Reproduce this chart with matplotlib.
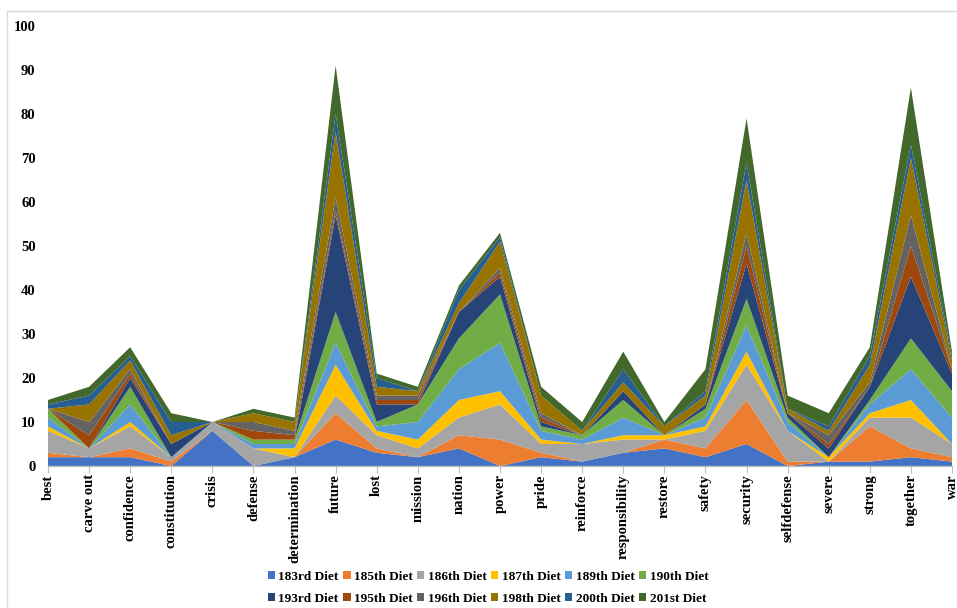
import matplotlib.pyplot as plt
from matplotlib.patches import Rectangle

plt.rcParams['font.family'] = ['Liberation Serif', 'DejaVu Serif']

words = ["best", "carve out", "confidence", "constitution", "crisis", "defense",
         "determination", "future", "lost", "mission", "nation", "power", "pride",
         "reinforce", "responsibility", "restore", "safety", "security",
         "selfdefense", "severe", "strong", "together", "war"]

diet_183 = [2, 2, 2, 0, 8, 0, 2, 6, 3, 2, 4, 0, 2, 1, 3, 4, 2, 5, 0, 1, 1, 2, 1]
diet_185 = [1, 0, 2, 1, 0, 0, 0, 6, 1, 0, 3, 6, 1, 0, 0, 2, 2, 10, 1, 0, 8, 2, 1]
diet_186 = [5, 2, 5, 1, 2, 4, 0, 4, 3, 2, 4, 8, 2, 4, 3, 0, 4, 8, 7, 0, 2, 7, 3]
diet_187 = [1, 0, 1, 0, 0, 0, 2, 7, 1, 2, 4, 3, 1, 0, 1, 1, 1, 3, 0, 1, 1, 4, 0]
diet_189 = [2, 0, 4, 0, 0, 1, 1, 5, 1, 4, 7, 11, 2, 1, 4, 0, 2, 6, 2, 0, 2, 7, 6]
diet_190 = [2, 0, 4, 0, 0, 1, 1, 7, 1, 4, 7, 11, 1, 1, 4, 0, 2, 6, 1, 0, 1, 7, 6]
diet_193 = [0, 0, 2, 3, 0, 0, 0, 22, 4, 0, 6, 4, 1, 0, 2, 0, 1, 8, 1, 2, 3, 14, 4]
diet_195 = [0, 3, 1, 0, 0, 2, 1, 1, 1, 1, 0, 1, 1, 0, 0, 0, 0, 4, 0, 1, 0, 7, 1]
diet_196 = [0, 3, 1, 0, 0, 2, 1, 3, 1, 1, 0, 1, 1, 0, 0, 0, 0, 3, 0, 2, 1, 7, 0]
diet_198 = [0, 4, 2, 2, 0, 2, 2, 15, 2, 1, 2, 6, 4, 1, 2, 2, 2, 12, 1, 1, 4, 13, 2]
diet_200 = [1, 2, 1, 3, 0, 0, 0, 4, 2, 0, 3, 1, 0, 0, 3, 0, 1, 4, 0, 1, 2, 3, 1]
diet_201 = [1, 2, 2, 2, 0, 1, 1, 11, 1, 1, 1, 1, 2, 2, 4, 1, 5, 10, 3, 3, 2, 13, 1]

series = [diet_183, diet_185, diet_186, diet_187, diet_189, diet_190,
          diet_193, diet_195, diet_196, diet_198, diet_200, diet_201]
labels = ["183rd Diet", "185th Diet", "186th Diet", "187th Diet", "189th Diet",
          "190th Diet", "193rd Diet", "195th Diet", "196th Diet", "198th Diet",
          "200th Diet", "201st Diet"]
colors = ["#4472C4", "#ED7D31", "#A5A5A5", "#FFC000", "#5B9BD5", "#70AD47",
          "#264478", "#9E480E", "#636363", "#997300", "#255E91", "#43682B"]

W, H = 957, 608
fig = plt.figure(figsize=(W / 100, H / 100), dpi=100)
ax = fig.add_axes([48 / W, 1 - 466 / H, (952 - 48) / W, (466 - 26) / H])

x = list(range(len(words)))
ax.stackplot(x, *series, labels=labels, colors=colors, linewidth=0)

ax.set_xlim(0, len(words) - 1)
ax.set_ylim(0, 100)
ax.set_yticks(range(0, 101, 10))
ax.set_xticks(x)
ax.set_xticklabels(words, rotation=90, ha="center", va="top",
                   fontsize=10.5, fontweight="bold")
for t in ax.get_yticklabels():
    t.set_fontweight("bold")
    t.set_fontsize(10.5)

for side in ["top", "right", "left"]:
    ax.spines[side].set_visible(False)
ax.spines["bottom"].set_color("#BFBFBF")
ax.spines["bottom"].set_linewidth(1.0)
ax.tick_params(axis="y", length=0, pad=9)
ax.tick_params(axis="x", length=5, color="#BFBFBF", pad=1)

# chart area border
fig.patches.append(Rectangle((7 / W, -0.05), 1.0, 1 - 11 / H + 0.05,
                             transform=fig.transFigure, fill=False,
                             edgecolor="#D9D9D9", linewidth=1.0))

# legend filled row by row: 6 entries per row
handles, names = ax.get_legend_handles_labels()
order = [i + 6 * r for i in range(6) for r in range(2)]
fig.legend([handles[i] for i in order], [names[i] for i in order],
           loc="center", ncol=6,
           bbox_to_anchor=(488 / W, 1 - 588 / H), frameon=False,
           prop={"weight": "bold", "size": 9.5}, handlelength=0.55,
           handleheight=0.55, handletextpad=0.25, columnspacing=0.35,
           labelspacing=0.75)

fig.savefig("out.png", dpi=100)
